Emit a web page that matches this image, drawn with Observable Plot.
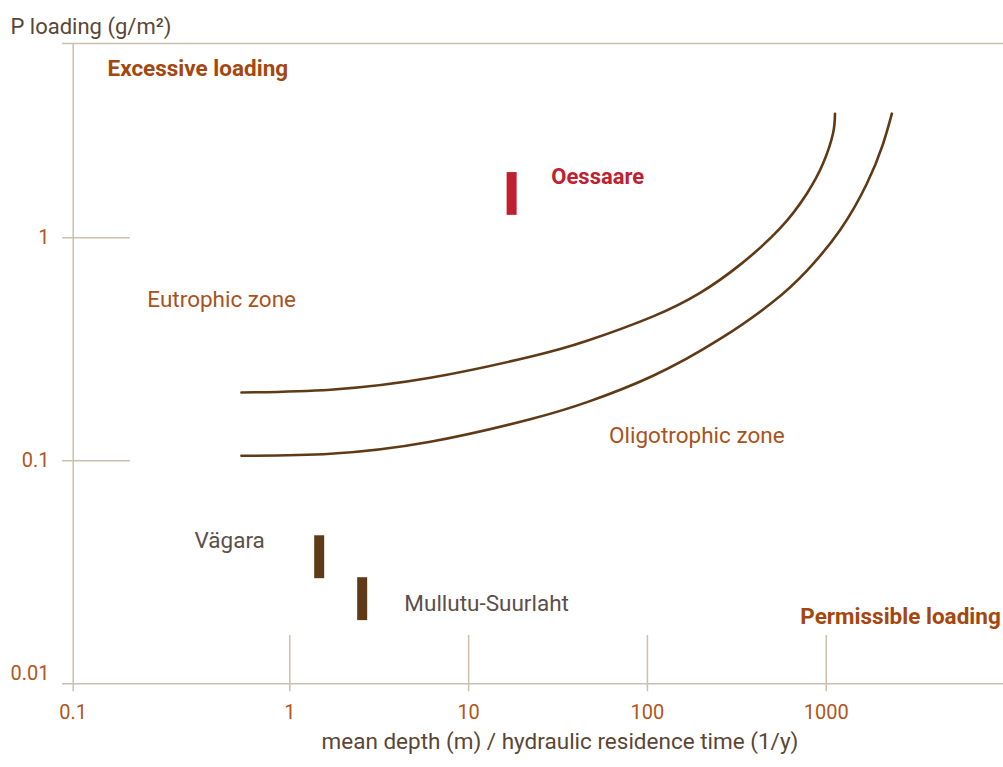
<!DOCTYPE html>
<html><head><meta charset="utf-8">
<script src="https://cdn.jsdelivr.net/npm/d3@7"></script>
<script src="https://cdn.jsdelivr.net/npm/@observablehq/plot@0.6"></script>
<style>body{margin:0;background:#fff;}</style>
</head><body><div id="chart"></div>
<script>
// Upper (excessive loading) curve
const upperX = [0.598, 1.69, 6.11, 22.1, 46.0, 107.6, 197, 329, 551, 780, 958, 1090, 1119];
const upperY = [0.2024, 0.2083, 0.2356, 0.2927, 0.3452, 0.4442, 0.566, 0.7558, 1.1008, 1.58, 2.145, 2.924, 3.6];
// Lower (permissible loading) curve
const lowerX = [0.598, 1.69, 6.11, 22.1, 46.0, 107.6, 254.7, 503.8, 780, 1193, 1688, 2074, 2328];
const lowerY = [0.1053, 0.1075, 0.1217, 0.1535, 0.1832, 0.2405, 0.3517, 0.516, 0.7127, 1.08, 1.75, 2.624, 3.6];
// Lakes (ranges)
const lakes = ["Oessaare", "Vägara", "Mullutu-Suurlaht"];
const lakeX = [17.4, 1.46, 2.54];
const lakeLow = [1.26, 0.0296, 0.0192];
const lakeHigh = [1.96, 0.0461, 0.0299];
const lakeColor = ["#c01f2f", "#5e3a17", "#5e3a17"];
// Annotations
const labelText = ["Excessive loading", "Oessaare", "Eutrophic zone", "Oligotrophic zone", "Vägara", "Mullutu-Suurlaht", "Permissible loading"];
const labelX = [0.144, 29, 0.22, 61, 0.363, 4.37, 9460];
const labelY = [5.74, 1.87, 0.529, 0.13, 0.0438, 0.0229, 0.02];
const labelKind = ["bold", "red", "zone", "zone", "lake", "lake", "boldEnd"];
// Axes
const xTicks = [0.1, 1, 10, 100, 1000];
const xTickMarks = [1, 10, 100, 1000];
const yTicks = [1, 0.1];
const yBottomTick = [0.01];
const xDomain = [0.1, 1, 9800];
const yDomain = [0.01, 7.43];
const xTitle = "mean depth (m) / hydraulic residence time (1/y)";
const yTitle = "P loading (g/m²)";

const axisColor = "#cdbfad";
const tickColor = "#b0561a";
const curveColor = "#5e3a17";

const upper = upperX.map((x, i) => ({x, y: upperY[i]}));
const lower = lowerX.map((x, i) => ({x, y: lowerY[i]}));
const lakeData = lakes.map((name, i) => ({name, x: lakeX[i], y1: lakeLow[i], y2: lakeHigh[i], c: lakeColor[i]}));
const labels = labelText.map((t, i) => ({t, x: labelX[i], y: labelY[i], k: labelKind[i]}));
const lab = k => labels.filter(d => d.k === k);

const chart = Plot.plot({
  width: 1003,
  height: 767,
  marginLeft: 72.7,
  marginRight: 0,
  marginTop: 43,
  marginBottom: 83.7,
  style: {fontFamily: "Roboto, sans-serif", fontSize: "20px", background: "#fff"},
  x: {type: "log", domain: xDomain, range: [72.7, 289.3, 1003], axis: null},
  y: {type: "log", domain: yDomain, range: [683.3, 43], axis: null},
  marks: [
    // frame lines
    Plot.ruleY(yDomain, {stroke: axisColor, strokeWidth: 1.5, insetLeft: -10.7}),
    Plot.ruleX([xDomain[0]], {stroke: axisColor, strokeWidth: 1.5, insetBottom: -8}),
    Plot.gridY(yTicks, {stroke: axisColor, strokeOpacity: 1, strokeWidth: 1.5, insetLeft: -10.7, insetRight: 873}),
    Plot.gridX(xTickMarks, {stroke: axisColor, strokeOpacity: 1, strokeWidth: 1.5, insetTop: 592, insetBottom: -8}),
    // tick labels
    Plot.axisY({ticks: yTicks, tickSize: 0, tickPadding: 23.7, tickFormat: d => String(d), color: tickColor, fontSize: 20, label: null}),
    Plot.axisY({ticks: yBottomTick, tickSize: 0, tickPadding: 23.7, dy: -10, tickFormat: d => String(d), color: tickColor, fontSize: 20, label: null}),
    Plot.axisX({ticks: xTicks, tickSize: 0, tickPadding: 21, tickFormat: d => String(d), color: tickColor, fontSize: 20, label: null}),
    // titles
    Plot.text([yTitle], {text: d => d, frameAnchor: "top-left", textAnchor: "start", dx: -62.7, dy: -25, fill: "#5a4636", fontSize: 22}),
    Plot.text([xTitle], {text: d => d, frameAnchor: "bottom", dx: 21.6, dy: 64.7, fill: "#5a4636", fontSize: 22.5}),
    // curves
    Plot.line(upper, {x: "x", y: "y", curve: "natural", stroke: curveColor, strokeWidth: 2.6}),
    Plot.line(lower, {x: "x", y: "y", curve: "natural", stroke: curveColor, strokeWidth: 2.6}),
    // lakes
    Plot.ruleX(lakeData, {x: "x", y1: "y1", y2: "y2", stroke: "c", strokeWidth: 10}),
    // labels
    Plot.text(lab("bold"), {x: "x", y: "y", text: "t", textAnchor: "start", fontWeight: "bold", fill: "#a4470f", fontSize: 22.5}),
    Plot.text(lab("boldEnd"), {x: "x", y: "y", text: "t", textAnchor: "end", fontWeight: "bold", fill: "#a4470f", fontSize: 22.5}),
    Plot.text(lab("red"), {x: "x", y: "y", text: "t", textAnchor: "start", fontWeight: "bold", fill: "#c01f2f", fontSize: 22}),
    Plot.text(lab("zone"), {x: "x", y: "y", text: "t", textAnchor: "start", fill: "#a8531c", fontSize: 22.5}),
    Plot.text(lab("lake"), {x: "x", y: "y", text: "t", textAnchor: "start", fill: "#5b4f48", fontSize: 22.5})
  ]
});
document.getElementById("chart").append(chart);
</script>
</body></html>
